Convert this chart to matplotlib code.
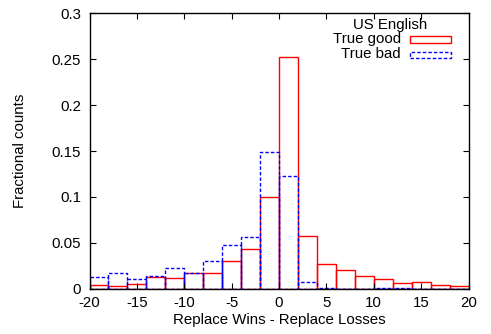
import matplotlib

matplotlib.use("Agg")
import matplotlib.pyplot as plt
from matplotlib.patches import Rectangle
from matplotlib.ticker import FormatStrFormatter

plt.rcParams["font.family"] = ["Liberation Sans", "DejaVu Sans"]
plt.rcParams["font.size"] = 10.8
plt.rcParams["axes.unicode_minus"] = False

# histogram bins of width 2 from -20 to 20
bin_left = list(range(-20, 20, 2))
bin_width = 2

true_good = [0.004, 0.003, 0.0047, 0.0124, 0.012, 0.0168, 0.017, 0.030, 0.0427, 0.0997,
             0.2527, 0.057, 0.0266, 0.0204, 0.0135, 0.0102, 0.0062, 0.0069, 0.004, 0.003]
true_bad = [0.013, 0.017, 0.010, 0.0135, 0.0227, 0.017, 0.030, 0.048, 0.056, 0.149,
            0.123, 0.0066, 0.0005, 0.0, 0.0, 0.001, 0.001, 0.0, 0.0, 0.0]

x_ticks = [-20, -15, -10, -5, 0, 5, 10, 15, 20]
y_ticks = [0, 0.05, 0.1, 0.15, 0.2, 0.25, 0.3]

fig = plt.figure(figsize=(4.91, 3.34), dpi=100)
ax = fig.add_axes([0.1823, 0.1362, 0.7719, 0.8234])

ax.bar(bin_left, true_good, width=bin_width, align="edge", fill=False,
       edgecolor="#ff0000", linewidth=1.0)
ax.bar(bin_left, true_bad, width=bin_width, align="edge", fill=False,
       edgecolor="#0000ff", linewidth=1.0, linestyle=(0, (2.5, 1.5)))

ax.set_xlim(-20, 20)
ax.set_ylim(0, 0.3)
ax.set_xticks(x_ticks)
ax.set_yticks(y_ticks)
ax.yaxis.set_major_formatter(FormatStrFormatter("%g"))
ax.tick_params(direction="in", top=True, right=True, length=4, width=0.8)
ax.tick_params(axis="y", pad=6)
ax.tick_params(axis="x", pad=5.5)
for s in ax.spines.values():
    s.set_linewidth(1.0)

ax.set_xlabel("Replace Wins - Replace Losses", va="center")
ax.xaxis.set_label_coords(0.5, -0.1145)
ax.set_ylabel("Fractional counts", va="center")
ax.yaxis.set_label_coords(-0.183, 0.5)

# key, gnuplot style: title on top, labels right-aligned, box samples
ax.text(0.793, 0.958, "US English", transform=ax.transAxes, ha="center", va="center")
ax.text(0.821, 0.906, "True good", transform=ax.transAxes, ha="right", va="center")
ax.text(0.821, 0.852, "True bad", transform=ax.transAxes, ha="right", va="center")
ax.add_patch(Rectangle((0.846, 0.894), 0.108, 0.024, transform=ax.transAxes,
                       fill=False, edgecolor="#ff0000", linewidth=1.0))
ax.add_patch(Rectangle((0.846, 0.839), 0.108, 0.022, transform=ax.transAxes,
                       fill=False, edgecolor="#0000ff", linewidth=1.0,
                       linestyle=(0, (2.5, 1.5))))

fig.savefig("out.png", dpi=100)
